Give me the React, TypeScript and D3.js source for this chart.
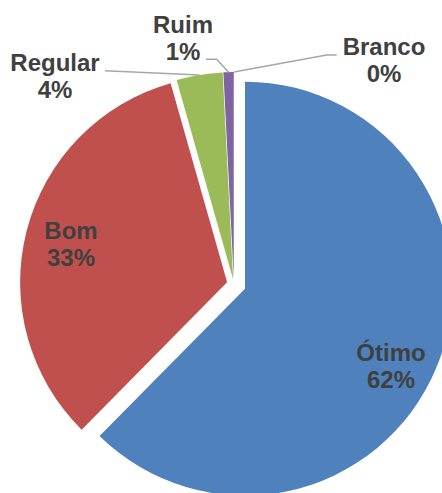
import React from "react";
import * as d3 from "d3";

const categories = ["Ótimo", "Bom", "Regular", "Ruim", "Branco"];
const values = [62.4, 33.2, 3.6, 0.8, 0.0];
const colors = ["#4F81BD", "#C0504D", "#9BBB59", "#8064A2", "#4BACC6"];

const W = 442;
const H = 493;
const CX = 233.9;
const CY = 284.1;
const R = 207;
// per-slice explosion offsets (layout)
const explode = [12, 7, 5, 5, 5];

// label block centers (layout)
const labelPos: [number, number][] = [
  [391, 366.5],
  [71, 244],
  [55, 76.5],
  [183, 38.5],
  [384, 60.5],
];
// leader line start/elbow points for outside labels (layout); null = none
const leaderPts: ([number, number][] | null)[] = [
  null,
  null,
  [[105, 70.7]],
  [[206, 59.3], [216.7, 59.3]],
  [[336.7, 55], [326.7, 55]],
];

export default function App() {
  const pie = d3.pie<number>().sort(null).value((d) => d);
  const arcs = pie(values);
  const arcGen = d3.arc<d3.PieArcDatum<number>>().innerRadius(0).outerRadius(R);
  const total = d3.sum(values);

  const origin = (a: d3.PieArcDatum<number>, i: number): [number, number] => {
    const mid = (a.startAngle + a.endAngle) / 2;
    return [CX + explode[i] * Math.sin(mid), CY - explode[i] * Math.cos(mid)];
  };

  return (
    <svg width={W} height={H} style={{ display: "block", position: "absolute", left: 0, top: 0 }}>
      <rect width={W} height={H} fill="#fff" />
      {arcs.map((a, i) => {
        if (a.endAngle - a.startAngle <= 0) return null;
        const [ox, oy] = origin(a, i);
        return (
          <path key={i} d={arcGen(a) || ""} transform={`translate(${ox},${oy})`} fill={colors[i]} />
        );
      })}
      {arcs.map((a, i) => {
        const pts = leaderPts[i];
        if (!pts) return null;
        const mid = (a.startAngle + a.endAngle) / 2;
        const [ox, oy] = origin(a, i);
        const end: [number, number] = [ox + R * Math.sin(mid), oy - R * Math.cos(mid)];
        const line = d3.line()([...pts, end]);
        return <path key={"l" + i} d={line || ""} fill="none" stroke="#a6a6a6" strokeWidth={1.5} />;
      })}
      {categories.map((c, i) => {
        const [x, y] = labelPos[i];
        const pct = Math.round((values[i] / total) * 100);
        return (
          <text
            key={"t" + i}
            x={x}
            textAnchor="middle"
            fontFamily="'Liberation Sans', Arial, sans-serif"
            fontWeight="bold"
            fontSize={24}
            fill="#404040"
          >
            <tspan x={x} y={y - 5.5}>{c}</tspan>
            <tspan x={x} y={y + 21.5}>{pct}%</tspan>
          </text>
        );
      })}
    </svg>
  );
}
